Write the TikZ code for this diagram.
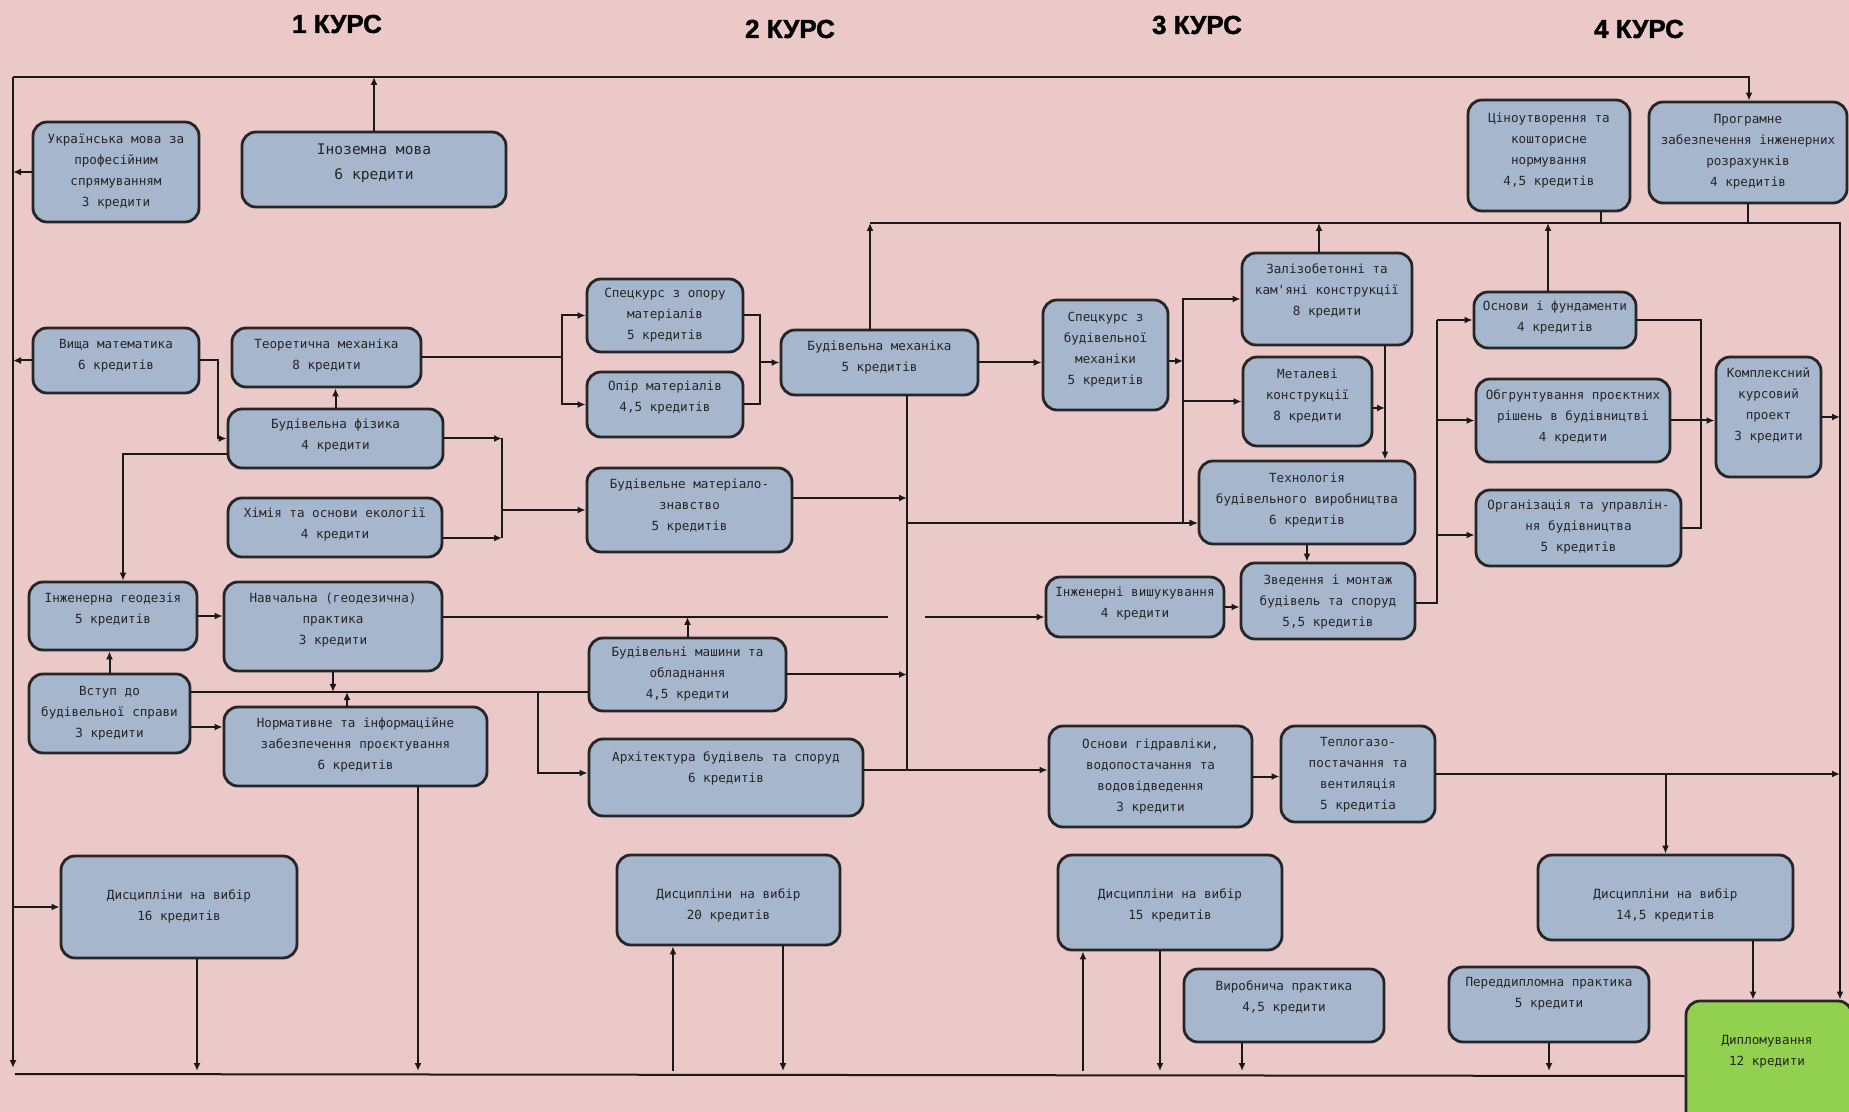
\documentclass[tikz,border=0pt]{standalone}
\usepackage{fontspec}
\setsansfont{Liberation Sans}
\newfontfamily\kursfont[FakeBold=1.5]{Liberation Sans}
\newfontfamily\boxfont{DejaVu Sans Mono}
\usetikzlibrary{fit,arrows.meta}
\definecolor{bgc}{RGB}{236,201,201}
\definecolor{boxc}{RGB}{165,182,205}
\definecolor{dipc}{RGB}{146,208,80}
\tikzset{
 box/.style={draw=black!85, line width=1.4pt, rounded corners=7pt, fill=boxc, inner sep=0pt},
 btxt/.style={font={\boxfont\fontsize{6.3pt}{10.5pt}\selectfont}, align=center, inner sep=0pt, text=black!85},
 ln/.style={line width=1pt, draw=black!90},
 arr/.style={ln, -{Latex[length=4pt,width=3.5pt]}},
 kurs/.style={font={\kursfont\bfseries\fontsize{13pt}{15pt}\selectfont}}
}
\newcommand{\bx}[8][]{\node[box,fit={(#3,#4) (#5,#6)}] (#2) {};
 \node[btxt,#1] (#2-t) at ({(#3+#5)/2},#7) {#8};}
\begin{document}
\begin{tikzpicture}[x=0.5pt,y=-0.5pt]
\clip (0,0) rectangle (1849,1112);
\fill[bgc] (0,0) rectangle (1849,1112);
% course titles
\node[kurs] (k1) at (337,24) {1 КУРС};
\node[kurs] (k2) at (790,29) {2 КУРС};
\node[kurs] (k3) at (1197,25) {3 КУРС};
\node[kurs] (k4) at (1639,29) {4 КУРС};
% boxes
\bx{ukr}{33}{122}{199}{222}{171.5}{Українська мова за\\професійним\\спрямуванням\\3 кредити}
\bx[font={\boxfont\fontsize{7.3pt}{12.5pt}\selectfont}]{ino}{242}{132}{506}{207}{163.5}{Іноземна мова\\6 кредити}
\bx{vyshm}{33}{328}{199}{393}{356}{Вища математика\\6 кредитів}
\bx{teor}{232}{328}{421}{387}{356}{Теоретична механіка\\8 кредити}
\bx{bf}{228}{409}{443}{468}{436}{Будівельна фізика\\4 кредити}
\bx{khim}{228}{498}{442}{557}{525}{Хімія та основи екології\\4 кредити}
\bx{geod}{29}{582}{197}{650}{609.5}{Інженерна геодезія\\5 кредитів}
\bx{navch}{224}{582}{442}{671}{620}{Навчальна (геодезична)\\практика\\3 кредити}
\bx{vstup}{29}{674}{190}{753}{713}{Вступ до\\будівельної справи\\3 кредити}
\bx{norm}{224}{707}{487}{786}{745}{Нормативне та інформаційне\\забезпечення проєктування\\6 кредитів}
\bx{d16}{61}{856}{297}{958}{906}{Дисципліни на вибір\\16 кредитів}
\bx{spec1}{587}{279}{743}{352}{315}{Спецкурс з опору\\матеріалів\\5 кредитів}
\bx{opir}{587}{372}{743}{437}{398}{Опір матеріалів\\4,5 кредитів}
\bx{mat}{587}{468}{792}{552}{506}{Будівельне матеріало-\\знавство\\5 кредитів}
\bx{bm}{589}{638}{786}{711}{674.5}{Будівельні машини та\\обладнання\\4,5 кредити}
\bx{arch}{589}{739}{863}{816}{768.5}{Архітектура будівель та споруд\\6 кредитів}
\bx{d20}{617}{855}{840}{945}{905}{Дисципліни на вибір\\20 кредитів}
\bx{bmech}{781}{330}{978}{395}{357.5}{Будівельна механіка\\5 кредитів}
\bx{spec2}{1043}{300}{1168}{410}{350}{Спецкурс з\\будівельної\\механіки\\5 кредитів}
\bx{zal}{1242}{253}{1412}{345}{291}{Залізобетонні та\\кам'яні конструкції\\8 кредити}
\bx{met}{1243}{357}{1372}{446}{396}{Металеві\\конструкції\\8 кредити}
\bx{tech}{1199}{461}{1415}{544}{500}{Технологія\\будівельного виробництва\\6 кредитів}
\bx{vysh}{1046}{577}{1224}{637}{603.5}{Інженерні вишукування\\4 кредити}
\bx{zved}{1241}{563}{1415}{639}{602.5}{Зведення і монтаж\\будівель та споруд\\5,5 кредитів}
\bx{gid}{1049}{726}{1252}{827}{777}{Основи гідравліки,\\водопостачання та\\водовідведення\\3 кредити}
\bx{teplo}{1281}{726}{1435}{822}{775}{Теплогазо-\\постачання та\\вентиляція\\5 кредитіа}
\bx{d15}{1058}{855}{1282}{950}{905}{Дисципліни на вибір\\15 кредитів}
\bx{vyr}{1184}{969}{1384}{1042}{997.5}{Виробнича практика\\4,5 кредити}
\bx{tsin}{1468}{100}{1630}{211}{151}{Ціноутворення та\\кошторисне\\нормування\\4,5 кредитів}
\bx{prog}{1649}{102}{1847}{203}{152}{Програмне\\забезпечення інженерних\\розрахунків\\4 кредитів}
\bx{osn}{1474}{292}{1636}{348}{318}{Основи і фундаменти\\4 кредитів}
\bx{obgr}{1476}{379}{1670}{462}{416.5}{Обгрунтування проєктних\\рішень в будівництві\\4 кредити}
\bx{org}{1476}{490}{1681}{566}{527}{Організація та управлін-\\ня будівництва\\5 кредитів}
\bx{kompl}{1716}{357}{1821}{477}{405}{Комплексний\\курсовий\\проект\\3 кредити}
\bx{d145}{1538}{855}{1793}{940}{905}{Дисципліни на вибір\\14,5 кредитів}
\bx{pered}{1449}{967}{1649}{1042}{994}{Переддипломна практика\\5 кредити}
\node[box,fill=dipc,fit={(1686,1001) (1852,1135)}] (dip) {};
\node[btxt] (dip-t) at (1767,1052) {Дипломування\\12 кредити};
% frame lines
\coordinate (TL) at (13,77);
\coordinate (TR) at (1749,77);
\coordinate (BLa) at (13,1068);
\coordinate (BOT) at (0,1071);
\draw[arr] (TL) -- (TR) -- (TR |- prog.north);
\draw[arr] (TL) -- (BLa);
\draw[ln] (15,1074) -- (dip.west |- 0,1076);
% column 1
\draw[arr] (ino.north) -- (ino.north |- TL);
\draw[arr] (ukr.west) -- (ukr.west -| TL);
\draw[arr] (vyshm.west) -- (vyshm.west -| TL);
\draw[arr] (vyshm.east) -- (vyshm.east -| 218,0) |- (bf.west);
\draw[arr] (bf.north) -- (bf.north |- teor.south);
\draw[arr] (bf.west |- 0,454) -| (geod.north -| 123,0);
\draw[arr] (geod.east) -- (geod.east -| navch.west);
\draw[arr] (vstup.north) -- (vstup.north |- geod.south);
\coordinate (J1) at (538,692);
\draw[ln] (vstup.east |- J1) -- (bm.west |- J1);
\draw[arr] (J1) |- (arch.west |- 0,773);
\draw[arr] (navch.south) -- (navch.south |- J1);
\draw[arr] (norm.north -| 347,0) -- (J1 -| 347,0);
\draw[arr] (vstup.east |- 0,727) -- (norm.west |- 0,727);
\draw[arr] (norm.south -| 418,0) -- (BOT -| 418,0);
\draw[arr] (d16.west -| TL) -- (d16.west);
\draw[arr] (d16.south -| 197,0) -- (BOT -| 197,0);
% navch -> vysh (with gap)
\coordinate (G1) at (888,617);
\coordinate (G2) at (925,617);
\draw[ln] (navch.east |- G1) -- (G1);
\draw[arr] (G2) -- (vysh.west |- G2);
\draw[arr] (bm.north) -- (bm.north |- G1);
% teor -> spec1/opir -> bmech
\coordinate (J2) at (562,357.5);
\draw[ln] (teor.east) -- (J2);
\draw[arr] (J2) |- (spec1.west);
\draw[arr] (J2) |- (opir.west);
\coordinate (J3) at (760,362.5);
\draw[ln] (spec1.east) -| (J3 |- opir.east) -- (opir.east);
\draw[arr] (J3) -- (bmech.west);
% upper line
\coordinate (T2) at (870,223);
\coordinate (T3) at (1840,223);
\draw[arr] (bmech.north -| T2) -- (T2);
\draw[arr] (T2) -- (T3) -- (T3 |- dip.north);
\draw[arr] (zal.north -| 1319,0) -- (T2 -| 1319,0);
\draw[ln] (tsin.south -| 1601,0) -- (T2 -| 1601,0);
\draw[ln] (prog.south) -- (prog.south |- T2);
\draw[arr] (osn.north -| 1548,0) -- (T2 -| 1548,0);
% bmech -> spec2 -> 3rd year
\draw[arr] (bmech.east) -- (bmech.east -| spec2.west);
\coordinate (V1) at (1183,361);
\draw[arr] (spec2.east |- V1) -- (V1);
\draw[arr] (V1) |- (zal.west);
\draw[arr] (V1) |- (met.west);
\draw[arr] (V1) |- (tech.west |- 0,523);
% middle vertical
\coordinate (M2) at (907,770);
\draw[ln] (bmech.south -| M2) -- (M2);
\draw[arr] (M2 |- 0,523) -- (tech.west |- 0,523);
\draw[arr] (mat.east |- 0,498) -- (M2 |- 0,498);
\draw[arr] (bm.east) -- (bm.east -| M2);
\draw[arr] (arch.east |- M2) -- (gid.west |- M2);
% bf, khim -> mat
\coordinate (J4) at (502,513);
\draw[arr] (bf.east) -- (bf.east -| J4);
\draw[arr] (khim.east |- 0,538) -- (J4 |- 0,538);
\draw[ln] (bf.east -| J4) -- (J4 |- 0,538);
\draw[arr] (J4 |- mat.west) -- (mat.west);
% 3rd year
\draw[arr] (met.east |- 0,408) -- (1385,408);
\draw[arr] (zal.south -| 1385,0) -- (tech.north -| 1385,0);
\draw[arr] (tech.south) -- (tech.south |- zved.north);
\draw[arr] (vysh.east) -- (vysh.east -| zved.west);
% zved -> 4th year
\coordinate (V2) at (1437,603);
\draw[ln] (zved.east |- V2) -- (V2) -- (V2 |- osn.west);
\draw[arr] (V2 |- osn.west) -- (osn.west);
\draw[arr] (V2 |- obgr.west) -- (obgr.west);
\draw[arr] (V2 |- 0,535) -- (org.west |- 0,535);
\coordinate (V3) at (1701,317);
\draw[ln] (osn.east) -| (V3 |- org.east) -- (org.east);
\draw[arr] (obgr.east) -- (obgr.east -| kompl.west);
\draw[arr] (kompl.east) -- (kompl.east -| T3);
\draw[arr] (gid.east) -- (gid.east -| teplo.west);
\draw[arr] (teplo.east) -- (teplo.east -| T3);
\draw[arr] (teplo.east -| d145.north) -- (d145.north);
\draw[arr] (d145.south -| 1753,0) -- (dip.north -| 1753,0);
% bottom connections
\draw[arr] (pered.south) -- (pered.south |- BOT);
\draw[arr] (vyr.south -| 1242,0) -- (BOT -| 1242,0);
\draw[arr] (BOT -| 1083,0) -- (d15.south -| 1083,0);
\draw[arr] (d15.south -| 1160,0) -- (BOT -| 1160,0);
\draw[arr] (BOT -| 673,0) -- (d20.south -| 673,0);
\draw[arr] (d20.south -| 783,0) -- (BOT -| 783,0);
\end{tikzpicture}
\end{document}
